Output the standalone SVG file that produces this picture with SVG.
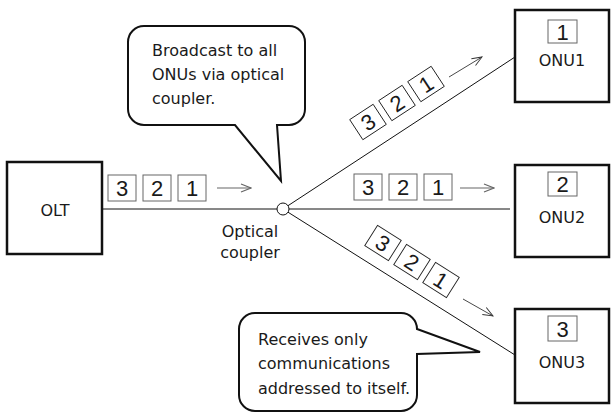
<svg xmlns="http://www.w3.org/2000/svg" width="611" height="413" viewBox="0 0 611 413">
<defs>
<style>
.node{fill:#fff;stroke:#111;stroke-width:2.5}
.callout{fill:#fff;stroke:#111;stroke-width:2;stroke-linejoin:miter}
.wire{fill:none;stroke:#111;stroke-width:1}
.pkt{fill:#fff;stroke:#666;stroke-width:1}
.pktd{fill:#fff;stroke:#222;stroke-width:0.9}
.arrow{fill:none;stroke:#666;stroke-width:1.2}
.arrowd{fill:none;stroke:#333;stroke-width:0.9}
text{font-family:"DejaVu Sans","Verdana",sans-serif;fill:#1a1a1a}
.lbl{font-size:16px}
.mid{text-anchor:middle}
.num{font-family:"Liberation Sans","Arial",sans-serif;font-size:22px;text-anchor:middle}
</style>
<marker id="ah" viewBox="-1 -5 12 10" markerWidth="12" markerHeight="10" refX="10" refY="0" orient="auto" markerUnits="userSpaceOnUse">
<path d="M0,-4 L10,0 L0,4" fill="none" stroke="#666" stroke-width="1.2"/>
</marker>
<marker id="ahd" viewBox="-1 -5 12 10" markerWidth="12" markerHeight="10" refX="10" refY="0" orient="auto" markerUnits="userSpaceOnUse">
<path d="M0,-4 L10,0 L0,4" fill="none" stroke="#333" stroke-width="0.9"/>
</marker>
</defs>

<g id="connectors">
<line class="wire" x1="102" y1="209" x2="277" y2="209"/>
<line class="wire" x1="289" y1="209" x2="510" y2="209"/>
<line class="wire" x1="288" y1="205.7" x2="515" y2="57"/>
<line class="wire" x1="288" y1="212.2" x2="515" y2="355"/>
</g>

<g id="olt">
<rect class="node" x="7" y="162" width="95" height="92"/>
<text class="lbl mid" x="55" y="216">OLT</text>
</g>

<g id="coupler">
<circle cx="283" cy="209" r="6" fill="#fff" stroke="#111" stroke-width="1"/>
<text class="lbl mid" x="250" y="237">Optical</text>
<text class="lbl mid" x="250" y="258">coupler</text>
</g>

<g id="onu1">
<rect class="node" x="515" y="10" width="94" height="92"/>
<rect class="pkt" x="548" y="20" width="29" height="23"/>
<text class="num" x="562.5" y="39.5">1</text>
<text class="lbl mid" x="562" y="66">ONU1</text>
</g>

<g id="onu2">
<rect class="node" x="515" y="165" width="94" height="92"/>
<rect class="pkt" x="548" y="172" width="29" height="24"/>
<text class="num" x="562.5" y="192">2</text>
<text class="lbl mid" x="562" y="223">ONU2</text>
</g>

<g id="onu3">
<rect class="node" x="515" y="309" width="94" height="94"/>
<rect class="pkt" x="548" y="316" width="29" height="25"/>
<text class="num" x="562.5" y="336.5">3</text>
<text class="lbl mid" x="562" y="368">ONU3</text>
</g>

<g id="packets-olt">
<rect class="pkt" x="108" y="175" width="28" height="26"/>
<text class="num" x="122" y="196">3</text>
<rect class="pkt" x="143" y="175" width="28" height="26"/>
<text class="num" x="157" y="196">2</text>
<rect class="pkt" x="178" y="175" width="28" height="26"/>
<text class="num" x="192" y="196">1</text>
<line class="arrow" x1="217" y1="188" x2="251" y2="188" marker-end="url(#ah)"/>
</g>

<g id="packets-onu2">
<rect class="pkt" x="354" y="174" width="28" height="26"/>
<text class="num" x="368" y="195">3</text>
<rect class="pkt" x="389" y="174" width="28" height="26"/>
<text class="num" x="403" y="195">2</text>
<rect class="pkt" x="424" y="174" width="28" height="26"/>
<text class="num" x="438" y="195">1</text>
<line class="arrow" x1="460" y1="188" x2="494" y2="188" marker-end="url(#ah)"/>
</g>

<g id="packets-onu1">
<g transform="translate(368,122) rotate(-33.2)"><rect class="pktd" x="-14" y="-12" width="28" height="24"/><text class="num" x="0" y="8">3</text></g>
<g transform="translate(397,103) rotate(-33.2)"><rect class="pktd" x="-14" y="-12" width="28" height="24"/><text class="num" x="0" y="8">2</text></g>
<g transform="translate(426,84) rotate(-33.2)"><rect class="pktd" x="-14" y="-12" width="28" height="24"/><text class="num" x="0" y="8">1</text></g>
<line class="arrowd" x1="449" y1="77" x2="482" y2="57" marker-end="url(#ahd)"/>
</g>

<g id="packets-onu3">
<g transform="translate(383,243) rotate(32.2)"><rect class="pktd" x="-14" y="-12" width="28" height="24"/><text class="num" x="0" y="8">3</text></g>
<g transform="translate(412,262) rotate(32.2)"><rect class="pktd" x="-14" y="-12" width="28" height="24"/><text class="num" x="0" y="8">2</text></g>
<g transform="translate(441,280) rotate(32.2)"><rect class="pktd" x="-14" y="-12" width="28" height="24"/><text class="num" x="0" y="8">1</text></g>
<line class="arrowd" x1="463" y1="299" x2="493" y2="316" marker-end="url(#ahd)"/>
</g>

<g id="callout-broadcast">
<path class="callout" d="M144,26 H289 A16,16 0 0 1 305,42 V109 A16,16 0 0 1 289,125 H277 L281,181 L235,125 H144 A16,16 0 0 1 128,109 V42 A16,16 0 0 1 144,26 Z"/>
<text class="lbl" x="152" y="56">Broadcast to all</text>
<text class="lbl" x="152" y="80">ONUs via optical</text>
<text class="lbl" x="152" y="104">coupler.</text>
</g>

<g id="callout-receive">
<path class="callout" d="M255,313 H401 A16,16 0 0 1 417,329 L480,352 L417,354 V395 A16,16 0 0 1 401,411 H255 A16,16 0 0 1 239,395 V329 A16,16 0 0 1 255,313 Z"/>
<text class="lbl" x="258" y="345">Receives only</text>
<text class="lbl" x="258" y="369">communications</text>
<text class="lbl" x="258" y="394">addressed to itself.</text>
</g>
</svg>
